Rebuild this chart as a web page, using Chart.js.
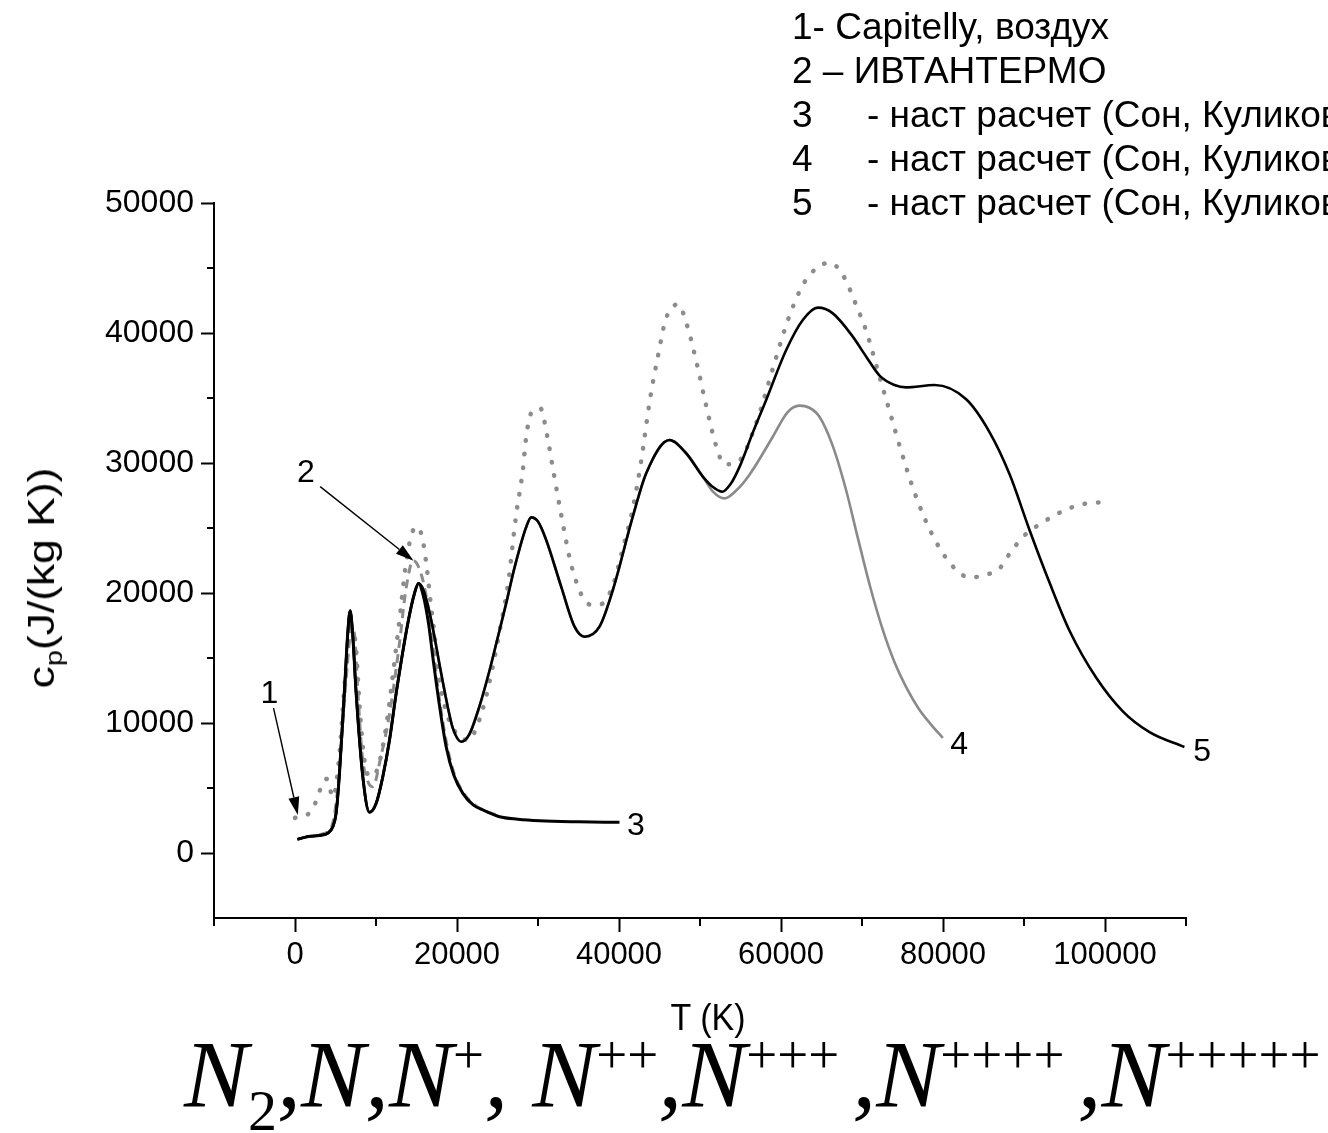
<!DOCTYPE html>
<html>
<head>
<meta charset="utf-8">
<script src="https://cdn.jsdelivr.net/npm/chart.js@4.4.0/dist/chart.umd.min.js"></script>
<style>
  html, body { margin: 0; padding: 0; background: #fff; overflow: hidden; }
  #wrap { position: relative; width: 1328px; height: 1133px; overflow: hidden; }
  #chart { position: absolute; left: 0; top: 0; }
  .legend { position: absolute; left: 792px; top: 5px; font-family: "Liberation Sans", Arial, sans-serif;
            font-size: 37px; line-height: 44px; color: #000; white-space: nowrap; }
  .legend .n { display: inline-block; width: 75px; }
  .ytitle { position: absolute; left: 42px; top: 578px; transform: translate(-50%, -50%) rotate(-90deg) scale(1.2, 1);
            font-family: "Liberation Sans", Arial, sans-serif; font-size: 37px; color: #000; white-space: nowrap; }
  .ytitle sub { font-size: 24px; line-height: 0; vertical-align: baseline; position: relative; top: 8px; }
  .xtitle { position: absolute; left: 708px; top: 1017px; transform: translate(-50%, -50%) scale(1, 1.1);
            font-family: "Liberation Sans", Arial, sans-serif; font-size: 34px; color: #000; white-space: nowrap; }
  .formula { position: absolute; left: 184px; top: 1027px; font-family: "Liberation Serif", "Times New Roman", serif;
             font-style: italic; font-size: 96px; line-height: 96px; color: #000; white-space: nowrap; }
  .formula sub, .formula sup { font-style: normal; line-height: 0; vertical-align: baseline; position: relative; }
  .formula sub { font-size: 58px; top: 23px; }
  .formula sup { font-size: 55px; top: -34px; }
  .formula sup.g { margin-right: 13px; }
</style>
</head>
<body>
<div id="wrap">
  <canvas id="chart" width="1328" height="1133"></canvas>
  <div class="legend">
    <div>1- Capitelly, воздух</div>
    <div>2 – ИВТАНТЕРМО</div>
    <div><span class="n">3</span>- наст расчет (Сон, Куликов)</div>
    <div><span class="n">4</span>- наст расчет (Сон, Куликов)</div>
    <div><span class="n">5</span>- наст расчет (Сон, Куликов)</div>
  </div>
  <div class="ytitle">c<sub>p</sub>(J/(kg K))</div>
  <div class="xtitle">T (K)</div>
  <div class="formula">N<sub>2</sub>,N,N<sup>+</sup>, N<sup>++</sup>,N<sup class="g">+++</sup>,N<sup class="g">++++</sup>,N<sup>+++++</sup></div>
</div>
<script>
// оси
var xTicks = [0, 20000, 40000, 60000, 80000, 100000];
var xTickLabels = ['0', '20000', '40000', '60000', '80000', '100000'];
var xMinor = [-10000, 10000, 30000, 50000, 70000, 90000, 110000];
var yTicks = [0, 10000, 20000, 30000, 40000, 50000];
var yTickLabels = ['0', '10000', '20000', '30000', '40000', '50000'];
var yMinor = [5000, 15000, 25000, 35000, 45000];

// 1 - Capitelly, воздух (точки)
var c1T = [0, 2000, 3900, 4700, 5400, 6200, 6900, 7500, 8000, 8600, 9300, 10200, 11200, 12100, 13000, 13600, 14300, 15000, 15700, 16300, 16700, 17200, 17800, 18600, 19600, 20600, 21500, 22500, 23500, 24400, 25300, 26300, 27300, 28100, 28600, 29300, 30300, 31100, 32000, 32900, 33900, 34600, 35500, 36500, 37600, 39200, 40500, 41700, 42700, 43800, 44800, 45800, 47300, 48400, 49700, 50800, 52000, 53000, 54700, 56900, 59200, 60800, 62700, 64400, 66000, 67600, 69500, 70500, 72000, 73400, 74800, 76500, 78500, 81000, 83300, 85300, 87000, 88200, 90000, 92000, 94800, 97000, 99700];
var c1V = [2700, 3200, 5700, 4300, 7000, 13500, 17300, 16000, 11000, 7000, 5900, 6500, 9500, 13800, 18500, 21800, 24300, 25100, 24300, 21800, 19500, 16900, 13500, 11000, 9500, 8800, 8700, 9800, 11800, 14300, 17200, 20700, 26000, 29300, 32300, 34000, 34200, 32200, 29000, 25900, 22700, 21100, 19700, 19100, 19100, 20500, 23500, 26500, 30000, 34800, 38200, 41100, 42200, 40600, 37400, 34300, 31300, 29900, 30100, 33000, 37700, 40900, 43700, 45000, 45400, 44500, 41800, 40200, 37000, 34000, 31000, 27700, 24700, 22200, 21200, 21400, 21900, 23000, 24400, 25300, 26300, 26800, 27000];

// 2 - ИВТАНТЕРМО (штрих)
var c2T = [3000, 4500, 5200, 5800, 6400, 7000, 7400, 7800, 8300, 9000, 9600, 10600, 11700, 12900, 13700, 14600, 15600, 16400, 17100, 17900, 18700, 19600, 20700, 22000, 23200, 25000];
var c2V = [1400, 2000, 4500, 9000, 14000, 17500, 16500, 12000, 7500, 5500, 5100, 7400, 10800, 16150, 20300, 22500, 21400, 19000, 15500, 11500, 8500, 6200, 4700, 3800, 3300, 2900];

// общий участок расчетов 3-5
var lowT = [300, 1500, 3400, 4000, 4670, 5080, 5490, 6200, 6500, 6810, 7100, 7550, 8370, 9200, 10020, 10840, 11670, 12490, 13930, 14750, 15250];
var lowV = [1050, 1250, 1385, 1510, 2020, 3080, 6130, 13560, 16800, 18640, 17000, 12280, 5870, 3130, 3820, 5870, 8690, 12280, 17670, 19970, 20740];

// 3
var c3T = [15800, 16500, 17010, 17800, 18660, 19600, 20720, 22000, 23190, 25250, 27500, 30190, 35000, 40060];
var c3V = [19900, 17600, 15100, 11500, 8180, 6000, 4590, 3700, 3310, 2790, 2600, 2480, 2400, 2360];

// 4
var c4T = [15800, 16500, 17200, 17840, 18870, 19480, 20520, 21500, 22780, 24000, 25000, 26070, 27000, 27720, 28500, 29160, 30000, 31010, 32860, 34510, 35740, 37590, 39240, 41700, 43360, 46230, 48290, 50350, 51600, 53030, 54500, 56110, 58990, 60800, 62280, 63500, 64750, 66400, 68000, 69500, 71000, 72500, 74000, 75500, 77000, 78500, 79980];
var c4V = [20300, 18800, 16700, 14500, 11200, 9600, 8560, 9100, 11300, 14000, 16500, 19200, 21700, 23400, 25000, 25820, 25500, 24080, 20490, 17410, 16640, 17410, 20230, 25870, 29210, 31770, 30750, 28950, 27800, 27280, 27900, 29100, 32020, 33900, 34410, 34250, 33560, 31300, 28000, 24200, 20500, 17300, 14700, 12700, 11100, 9900, 8850];

// 5
var c5T = [15800, 16500, 17200, 17840, 18870, 19480, 20520, 21500, 22780, 24000, 25000, 26070, 27000, 27720, 28500, 29160, 30000, 31010, 32860, 34510, 35740, 37590, 39240, 41700, 43360, 46230, 48290, 50350, 51500, 52740, 53800, 54880, 56500, 58170, 60640, 62690, 64550, 66400, 68860, 70520, 72200, 74000, 75450, 78950, 82860, 85740, 88210, 90680, 93150, 95620, 98900, 102200, 105500, 109800];
var c5V = [20300, 18800, 16700, 14500, 11200, 9600, 8560, 9100, 11300, 14000, 16500, 19200, 21700, 23400, 25000, 25820, 25500, 24080, 20490, 17410, 16640, 17410, 20230, 25870, 29210, 31770, 30750, 28950, 28200, 27790, 28400, 29700, 32300, 34850, 38690, 41000, 41950, 41510, 39720, 38180, 36700, 36000, 35820, 36000, 34900, 32380, 29150, 24850, 20800, 17100, 13500, 10900, 9300, 8150];

function pts(xs, ys) {
    return xs.map(function (x, i) { return { x: x, y: ys[i] }; });
}

var FONT = '"Liberation Sans", Arial, sans-serif';

// мелкие засечки
var minorTicks = {
    id: 'minorTicks',
    afterDraw: function (chart) {
        var ctx = chart.ctx, a = chart.chartArea, sx = chart.scales.x, sy = chart.scales.y;
        ctx.save();
        ctx.strokeStyle = '#000';
        ctx.lineWidth = 2;
        xMinor.forEach(function (v) {
            var px = Math.round(sx.getPixelForValue(v));
            ctx.beginPath(); ctx.moveTo(px, a.bottom); ctx.lineTo(px, a.bottom + 8); ctx.stroke();
        });
        yMinor.forEach(function (v) {
            var py = Math.round(sy.getPixelForValue(v));
            ctx.beginPath(); ctx.moveTo(a.left, py); ctx.lineTo(a.left - 7, py); ctx.stroke();
        });
        ctx.restore();
    }
};

function arrow(ctx, x1, y1, x2, y2) {
    var ang = Math.atan2(y2 - y1, x2 - x1), L = 18, W = 5.5;
    var bx = x2 - L * Math.cos(ang), by = y2 - L * Math.sin(ang);
    ctx.beginPath(); ctx.moveTo(x1, y1); ctx.lineTo(bx, by); ctx.stroke();
    ctx.beginPath();
    ctx.moveTo(x2, y2);
    ctx.lineTo(bx + W * Math.sin(ang), by - W * Math.cos(ang));
    ctx.lineTo(bx - W * Math.sin(ang), by + W * Math.cos(ang));
    ctx.closePath(); ctx.fill();
}

// номера кривых и стрелки
var curveLabels = {
    id: 'curveLabels',
    afterDatasetsDraw: function (chart) {
        var ctx = chart.ctx, sx = chart.scales.x, sy = chart.scales.y;
        function P(t, v) { return [sx.getPixelForValue(t), sy.getPixelForValue(v)]; }
        ctx.save();
        ctx.fillStyle = '#000';
        ctx.strokeStyle = '#000';
        ctx.lineWidth = 1.4;
        ctx.font = '32px ' + FONT;
        ctx.textAlign = 'center';
        ctx.textBaseline = 'middle';
        var labs = [['1', -3150, 12230], ['2', 1360, 29190], ['3', 42100, 2040], ['4', 81980, 8300], ['5', 112000, 7770]];
        labs.forEach(function (l) { var p = P(l[1], l[2]); ctx.fillText(l[0], p[0], p[1]); });
        var a1 = P(-2650, 11150), b1 = P(350, 2920);
        arrow(ctx, a1[0], a1[1], b1[0], b1[1]);
        var a2 = P(3110, 28180), b2 = P(14630, 22490);
        arrow(ctx, a2[0], a2[1], b2[0], b2[1]);
        ctx.restore();
    }
};

var ctx = document.getElementById('chart').getContext('2d');
var cpChart = new Chart(ctx, {
    type: 'line',
    data: {
        datasets: [{
            label: '3',
            data: pts(lowT.concat(c3T), lowV.concat(c3V)),
            borderColor: '#000',
            borderWidth: 3
        }, {
            label: '5',
            data: pts(lowT.concat(c5T), lowV.concat(c5V)),
            borderColor: '#000',
            borderWidth: 2.6
        }, {
            label: '4',
            data: pts(lowT.concat(c4T), lowV.concat(c4V)),
            borderColor: '#8a8a8a',
            borderWidth: 2.6
        }, {
            label: '2',
            data: pts(c2T, c2V),
            borderColor: '#8c8c8c',
            borderWidth: 3,
            borderDash: [9, 6]
        }, {
            label: '1',
            data: pts(c1T, c1V),
            borderColor: '#8c8c8c',
            borderWidth: 4.5,
            borderDash: [0.5, 13],
            borderCapStyle: 'round'
        }]
    },
    options: {
        responsive: false,
        animation: false,
        devicePixelRatio: 1,
        layout: { padding: { left: 0, top: 203, right: 142, bottom: 95 } },
        elements: {
            point: { radius: 0 },
            line: { fill: false, cubicInterpolationMode: 'monotone', borderJoinStyle: 'round' }
        },
        plugins: {
            legend: { display: false },
            tooltip: { enabled: false }
        },
        scales: {
            x: {
                type: 'linear',
                min: -10000,
                max: 110000,
                afterBuildTicks: function (s) { s.ticks = xTicks.map(function (v) { return { value: v }; }); },
                afterFit: function (s) { s.height = 120; },
                ticks: {
                    callback: function (v, i) { return xTickLabels[i]; },
                    font: { family: FONT, size: 31 },
                    color: '#000',
                    padding: 5,
                    maxRotation: 0,
                    autoSkip: false
                },
                grid: { drawOnChartArea: false, tickLength: 14, tickColor: '#000', tickWidth: 2 },
                border: { color: '#000', width: 2 }
            },
            y: {
                type: 'linear',
                min: -5000,
                max: 50000,
                afterBuildTicks: function (s) { s.ticks = yTicks.map(function (v) { return { value: v }; }); },
                afterFit: function (s) { s.width = 214; },
                ticks: {
                    callback: function (v, i) { return yTickLabels[i]; },
                    font: { family: FONT, size: 32 },
                    color: '#000',
                    padding: 7
                },
                grid: { drawOnChartArea: false, tickLength: 13, tickColor: '#000', tickWidth: 2 },
                border: { color: '#000', width: 2 }
            }
        }
    },
    plugins: [minorTicks, curveLabels]
});
</script>
</body>
</html>
